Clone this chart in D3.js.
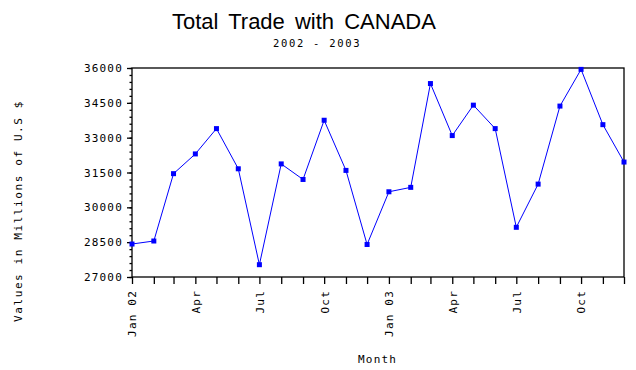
<!DOCTYPE html>
<html>
<head>
<meta charset="utf-8">
<script src="https://cdn.jsdelivr.net/npm/d3@7"></script>
<style>
  body { margin: 0; background: #fff; }
  svg { display: block; }
  .mono { font-family: "DejaVu Sans Mono", monospace; font-size: 11px; letter-spacing: 1.2px; fill: #000; }
</style>
</head>
<body>
<svg id="chart" width="636" height="370"></svg>
<script>
// months 2002-2003
var months = ["2002-01","2002-02","2002-03","2002-04","2002-05","2002-06",
  "2002-07","2002-08","2002-09","2002-10","2002-11","2002-12",
  "2003-01","2003-02","2003-03","2003-04","2003-05","2003-06",
  "2003-07","2003-08","2003-09","2003-10","2003-11","2003-12"];
// total trade, millions of US $
var values = [28420, 28550, 31450, 32300, 33390, 31660,
  27530, 31870, 31200, 33750, 31590, 28400,
  30670, 30860, 35330, 33090, 34400, 33390,
  29140, 31000, 34360, 35940, 33560, 31950];
var yTicks = [27000, 28500, 30000, 31500, 33000, 34500, 36000];
var xLabels = {"2002-01": "Jan 02", "2002-04": "Apr", "2002-07": "Jul", "2002-10": "Oct",
  "2003-01": "Jan 03", "2003-04": "Apr", "2003-07": "Jul", "2003-10": "Oct"};

var margin = { top: 68, right: 12, bottom: 93, left: 132 },
  width = 636 - margin.left - margin.right,
  height = 370 - margin.top - margin.bottom;

var parse = d3.timeParse("%Y-%m");
var data = months.map(function (m, i) {
  return { date: parse(m), key: m, value: values[i] };
});

var x = d3.scaleTime()
  .domain(d3.extent(data, function (d) { return d.date; }))
  .range([0, width]);
var y = d3.scaleLinear().domain([27000, 36000]).range([height, 0]);

var svg = d3.select("#chart");

// title
svg.append("text")
  .attr("x", 172).attr("y", 28.5)
  .style("font-family", "Liberation Sans, Arial, sans-serif")
  .style("font-size", "22px")
  .style("word-spacing", "4px")
  .text("Total Trade with CANADA");
svg.append("text")
  .attr("class", "mono")
  .attr("x", 273).attr("y", 46.5)
  .style("font-size", "10.5px")
  .style("letter-spacing", "1.7px")
  .text("2002 - 2003");

var g = svg.append("g")
  .attr("transform", "translate(" + margin.left + "," + margin.top + ")");

// frame
g.append("rect")
  .attr("width", width).attr("height", height)
  .attr("fill", "none").attr("stroke", "#000").attr("stroke-width", 1.3);

// y axis: majors with labels, minor ticks every 300
var yAxis = g.append("g")
  .call(d3.axisLeft(y).tickValues(d3.range(27000, 36001, 300)).tickSize(2.5).tickFormat(""));
yAxis.select(".domain").remove();
g.append("g")
  .call(d3.axisLeft(y).tickValues(yTicks).tickSize(5).tickPadding(4).tickFormat(d3.format("d")))
  .call(function (a) {
    a.select(".domain").remove();
    a.selectAll("text").attr("class", "mono").attr("font-family", null).attr("font-size", null);
  });

// x axis: ticks every month
g.append("g")
  .attr("transform", "translate(0," + height + ")")
  .call(d3.axisBottom(x).tickValues(data.map(function (d) { return d.date; })).tickSize(7)
    .tickFormat(function (d) { return xLabels[d3.timeFormat("%Y-%m")(d)] || ""; }))
  .call(function (a) {
    a.select(".domain").remove();
    a.selectAll("text")
      .attr("class", "mono")
      .attr("font-family", null).attr("font-size", null)
      .attr("transform", "rotate(-90)")
      .attr("x", -13).attr("y", 0).attr("dy", "0.35em")
      .style("text-anchor", "end");
  });
g.selectAll(".tick line").attr("stroke-width", 1.3);

// line
var line = d3.line()
  .x(function (d) { return x(d.date); })
  .y(function (d) { return y(d.value); });
g.append("path")
  .datum(data)
  .attr("d", line)
  .attr("fill", "none")
  .attr("stroke", "#0000ff")
  .attr("stroke-width", 1);

g.selectAll(".pt")
  .data(data)
  .enter().append("rect")
  .attr("class", "pt")
  .attr("x", function (d) { return x(d.date) - 2.5; })
  .attr("y", function (d) { return y(d.value) - 2.5; })
  .attr("width", 5).attr("height", 5)
  .attr("fill", "#0000ff");

// axis titles
svg.append("text")
  .attr("class", "mono")
  .attr("transform", "translate(22,211) rotate(-90)")
  .style("text-anchor", "middle")
  .style("letter-spacing", "1.6px")
  .text("Values in Millions of U.S $");
svg.append("text")
  .attr("class", "mono")
  .attr("x", 358).attr("y", 363)
  .text("Month");
</script>
</body>
</html>
